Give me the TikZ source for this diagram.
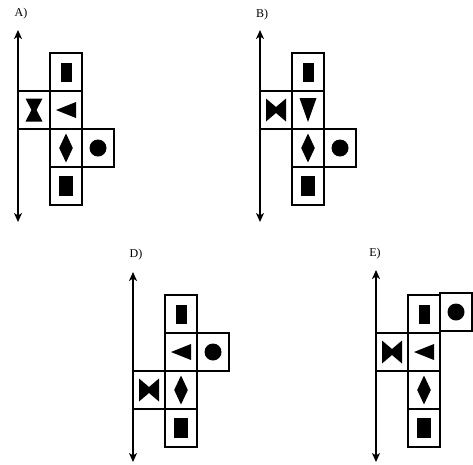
\documentclass[tikz,border=0pt]{standalone}
\usepackage{fontspec}
\setmainfont{Liberation Serif}
\usetikzlibrary{arrows.meta}
\tikzset{
  cell/.style={draw=black, line width=1.5pt, minimum width=32pt, minimum height=38pt, inner sep=0pt, outer sep=0pt},
  axis/.style={line width=1.5pt, {Stealth[length=9pt,width=8pt,inset=2.5pt]}-{Stealth[length=9pt,width=8pt,inset=2.5pt]}},
  lbl/.style={font=\fontsize{12}{14}\selectfont, inner sep=0pt},
  pics/tallrect/.style={code={\fill (-5.5,-9.5) rectangle (5.5,9.5);}},
  pics/sqrect/.style={code={\fill (-7,-10) rectangle (7,10);}},
  pics/lefttri/.style={code={\fill (10,-8) -- (10,8) -- (-10,0) -- cycle;}},
  pics/downtri/.style={code={\fill (-8.5,-12) -- (8.5,-12) -- (0,12) -- cycle;}},
  pics/hourglass/.style={code={\fill (-8.5,-11.5) -- (8.5,-11.5) -- (2.5,0) -- (8.5,11.5) -- (-8.5,11.5) -- (-2.5,0) -- cycle;}},
  pics/bowtie/.style={code={\fill (-10,-11.5) -- (0,-3) -- (10,-11.5) -- (10,11.5) -- (0,3) -- (-10,11.5) -- cycle;}},
  pics/diam/.style={code={\fill (0,-14.5) -- (6.8,0) -- (0,14.5) -- (-6.8,0) -- cycle;}},
  pics/dot/.style={code={\fill (0,0) circle (8.5);}},
}
\begin{document}
\begin{tikzpicture}[x=1pt,y=-1pt]
\useasboundingbox (0,0) rectangle (473,464);
% ---------- A ----------
\node[lbl] (la) at (21,14) {A)};
\coordinate (at) at (18,30); \coordinate (ab) at (18,222);
\draw[axis] (at) -- (ab);
\node[cell] (a1) at (66,72) {};
\node[cell] (a2) at (66,110) {};
\node[cell] (a3) at (66,148) {};
\node[cell] (a4) at (66,186) {};
\node[cell] (aL) at (34,110) {};
\node[cell] (aR) at (98,148) {};
\pic at (a1) {tallrect};
\pic at (a2) {lefttri};
\pic at (a3) {diam};
\pic at (a4) {sqrect};
\pic at (aL) {hourglass};
\pic at (aR) {dot};
% ---------- B ----------
\node[lbl] (lb) at (262,15) {B)};
\coordinate (bt) at (260,30); \coordinate (bb) at (260,222);
\draw[axis] (bt) -- (bb);
\node[cell] (b1) at (308,72) {};
\node[cell] (b2) at (308,110) {};
\node[cell] (b3) at (308,148) {};
\node[cell] (b4) at (308,186) {};
\node[cell] (bL) at (276,110) {};
\node[cell] (bR) at (340,148) {};
\pic at (b1) {tallrect};
\pic at (b2) {downtri};
\pic at (b3) {diam};
\pic at (b4) {sqrect};
\pic at (bL) {bowtie};
\pic at (bR) {dot};
% ---------- D ----------
\node[lbl] (ld) at (136,255) {D)};
\coordinate (dt) at (133,272); \coordinate (db) at (133,462);
\draw[axis] (dt) -- (db);
\node[cell] (d1) at (181,314) {};
\node[cell] (d2) at (181,352) {};
\node[cell] (d3) at (181,390) {};
\node[cell] (d4) at (181,428) {};
\node[cell] (dR) at (213,352) {};
\node[cell] (dL) at (149,390) {};
\pic at (d1) {tallrect};
\pic at (d2) {lefttri};
\pic at (d3) {diam};
\pic at (d4) {sqrect};
\pic at (dR) {dot};
\pic at (dL) {bowtie};
% ---------- E ----------
\node[lbl] (le) at (375,254) {E)};
\coordinate (et) at (376,270); \coordinate (eb) at (376,462);
\draw[axis] (et) -- (eb);
\node[cell] (e1) at (424,314) {};
\node[cell] (e2) at (424,352) {};
\node[cell] (e3) at (424,390) {};
\node[cell] (e4) at (424,428) {};
\node[cell] (eR) at (456,312) {};
\node[cell] (eL) at (392,352) {};
\pic at (e1) {tallrect};
\pic at (e2) {lefttri};
\pic at (e3) {diam};
\pic at (e4) {sqrect};
\pic at (eR) {dot};
\pic at (eL) {bowtie};
\end{tikzpicture}
\end{document}
